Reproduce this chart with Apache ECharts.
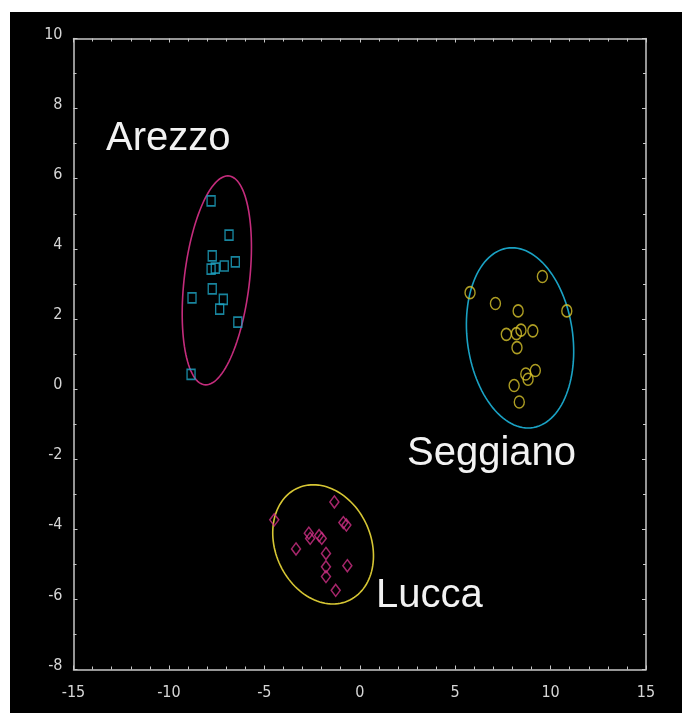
<!DOCTYPE html>
<html>
<head>
<meta charset="utf-8">
<script src="https://cdn.jsdelivr.net/npm/echarts@6/dist/echarts.min.js"></script>
<style>
  html, body { margin: 0; padding: 0; background: #ffffff; }
  #chart { position: absolute; left: 10px; top: 12px; width: 672px; height: 701px; }
</style>
</head>
<body>
<div id="chart"></div>
<script>
// Discriminant scores for three olive-oil origins
const arezzoX = [-7.79, -6.85, -7.73, -7.57, -7.79, -7.10, -6.52, -7.73, -8.79, -7.15, -7.34, -6.39, -8.84];
const arezzoY = [5.37, 4.39, 3.80, 3.45, 3.42, 3.51, 3.63, 2.86, 2.60, 2.56, 2.28, 1.91, 0.42];

const seggianoX = [9.57, 5.78, 10.85, 7.11, 8.30, 7.68, 8.21, 8.45, 9.07, 8.24, 9.20, 8.70, 8.82, 8.09, 8.36];
const seggianoY = [3.21, 2.75, 2.23, 2.44, 2.23, 1.56, 1.58, 1.68, 1.66, 1.18, 0.53, 0.43, 0.28, 0.10, -0.37];

const luccaX = [-1.33, -4.48, -0.86, -0.70, -2.67, -2.60, -2.13, -1.99, -3.34, -1.77, -0.65, -1.77, -1.77, -1.26];
const luccaY = [-3.22, -3.73, -3.81, -3.88, -4.11, -4.26, -4.18, -4.26, -4.56, -4.69, -5.04, -5.07, -5.35, -5.74];

// Confidence ellipses: centre, conjugate semi-diameter u, horizontal semi-chord v (data units)
const arezzoEllipse = [-7.49, 3.10, 0.577, 2.98, 1.72];
const seggianoEllipse = [8.40, 1.46, -0.42, 2.57, 2.78];
const luccaEllipse = [-1.92, -4.43, -0.51, 1.70, 2.59];

const xTicks = [-15, -10, -5, 0, 5, 10, 15];
const yTicks = [-8, -6, -4, -2, 0, 2, 4, 6, 8, 10];

const groupNames = ['Arezzo', 'Seggiano', 'Lucca'];

const CYAN = '#1ea6c6';
const YELLOW = '#d8c42c';
const MAGENTA = '#cf2f86';
const AXIS = '#c8c8c8';

const zip = (xs, ys) => xs.map((x, i) => [x, ys[i]]);

function ellipseSeries(params, color) {
  return {
    type: 'custom',
    data: [params],
    silent: true,
    z: 1,
    renderItem: function (p, api) {
      const cx = api.value(0), cy = api.value(1);
      const ux = api.value(2), uy = api.value(3), vx = api.value(4);
      const pts = [];
      for (let k = 0; k < 120; k++) {
        const t = (k / 120) * Math.PI * 2;
        pts.push(api.coord([cx + ux * Math.cos(t) + vx * Math.sin(t), cy + uy * Math.cos(t)]));
      }
      return {
        type: 'polygon',
        shape: { points: pts },
        style: { fill: 'none', stroke: color, lineWidth: 1.6 }
      };
    }
  };
}

const tickStyle = { color: AXIS, width: 1 };
const tickFont = '"Liberation Sans Narrow", "DejaVu Sans Condensed", sans-serif';

function xAxisDef(pos, showLabels) {
  return {
    type: 'value', position: pos, min: -15, max: 15, interval: 5,
    axisLine: { show: true, onZero: false, lineStyle: { color: AXIS, width: 1.5 } },
    axisTick: { show: true, inside: true, length: 4, lineStyle: tickStyle },
    minorTick: { show: true, splitNumber: 5, length: 3, lineStyle: tickStyle },
    splitLine: { show: false },
    axisLabel: {
      show: showLabels, color: '#d6d6d6', fontSize: 16, margin: 15,
      fontFamily: tickFont
    }
  };
}
function yAxisDef(pos, showLabels) {
  return {
    type: 'value', position: pos, min: -8, max: 10, interval: 2,
    axisLine: { show: true, onZero: false, lineStyle: { color: AXIS, width: 1.5 } },
    axisTick: { show: true, inside: true, length: 4, lineStyle: tickStyle },
    minorTick: { show: true, splitNumber: 2, length: 3, lineStyle: tickStyle },
    splitLine: { show: false },
    axisLabel: {
      show: showLabels, color: '#d6d6d6', fontSize: 16, margin: 11,
      lineHeight: 8, verticalAlign: 'bottom',
      fontFamily: tickFont
    }
  };
}

const chart = echarts.init(document.getElementById('chart'));
const labelFont = 'normal 40px "Liberation Sans", Arial, sans-serif';

chart.setOption({
  backgroundColor: '#000000',
  animation: false,
  grid: { left: 63.5, right: 36, top: 26.5, bottom: 43.5 },
  xAxis: [xAxisDef('bottom', true), xAxisDef('top', false)],
  yAxis: [yAxisDef('left', true), yAxisDef('right', false)],
  graphic: [
    { type: 'text', left: 96, top: 107, style: { text: groupNames[0], fill: '#f2f2f2', font: labelFont } },
    { type: 'text', left: 397, top: 422, style: { text: groupNames[1], fill: '#f2f2f2', font: labelFont } },
    { type: 'text', left: 366, top: 564, style: { text: groupNames[2], fill: '#f2f2f2', font: labelFont } }
  ],
  series: [
    ellipseSeries(arezzoEllipse, '#c42c7c'),
    ellipseSeries(seggianoEllipse, '#1aa2c4'),
    ellipseSeries(luccaEllipse, '#d6c634'),
    {
      name: groupNames[0], type: 'scatter', z: 3,
      data: zip(arezzoX, arezzoY),
      symbol: 'rect', symbolSize: [8, 10],
      itemStyle: { color: 'transparent', borderColor: CYAN, borderWidth: 1.5 }
    },
    {
      name: groupNames[1], type: 'scatter', z: 3,
      data: zip(seggianoX, seggianoY),
      symbol: 'circle', symbolSize: [10, 12],
      itemStyle: { color: 'transparent', borderColor: YELLOW, borderWidth: 1.5 }
    },
    {
      name: groupNames[2], type: 'scatter', z: 3,
      data: zip(luccaX, luccaY),
      symbol: 'diamond', symbolSize: [9, 12],
      itemStyle: { color: 'transparent', borderColor: MAGENTA, borderWidth: 1.5 }
    }
  ]
});
</script>
</body>
</html>
